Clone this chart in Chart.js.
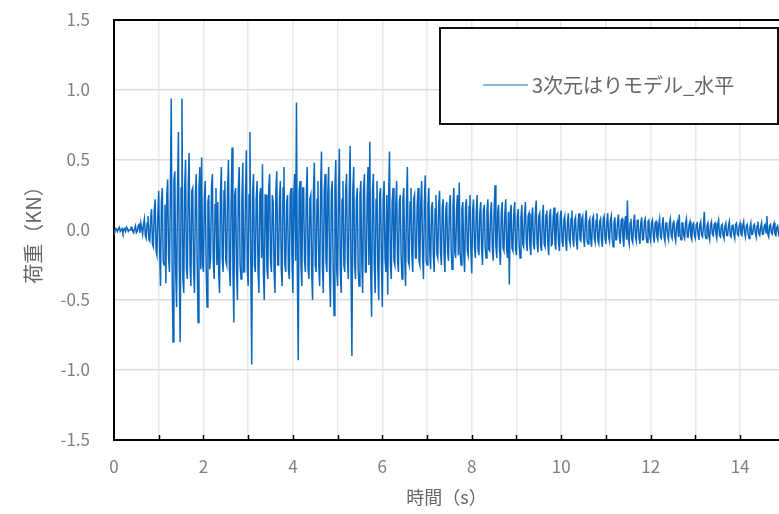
<!DOCTYPE html>
<html lang="ja">
<head>
<meta charset="UTF-8" />
<title>荷重時刻歴</title>
<script src="https://cdn.jsdelivr.net/npm/chart.js"></script>
<style>
  html, body { margin: 0; padding: 0; background: #fff; overflow: hidden; }
  #wrap { width: 779px; height: 514px; }
</style>
</head>
<body>
<div id="wrap"><canvas id="myChart" width="779" height="514"></canvas></div>
<script>
  // sample interval of the record (s)
  const dt = 0.02;

  const seriesLabel = '3次元はりモデル_水平';
  const xTitle = '時間（s）';
  const yTitle = '荷重（KN）';
  const xTickLabels = ['0', '2', '4', '6', '8', '10', '12', '14'];
  const yTickLabels = ['-1.5', '-1.0', '-0.5', '0.0', '0.5', '1.0', '1.5'];

  // load values, one row per second
  const load = [
    0.00,-0.01, 0.01,0.00, -0.01,0.01, 0.02,-0.01, 0.00,0.01, -0.02,0.00, 0.01,-0.01, 0.02,0.01, -0.01,0.00, 0.00,0.02, 0.02,-0.01, -0.02,0.01, 0.03,-0.02, -0.01,0.03, 0.04,-0.02, 0.05,0.01, -0.03,0.04, 0.08,-0.04, -0.06,0.05, 0.10,-0.07, -0.08,0.09, 0.15,-0.10, -0.12,0.14, 0.22,-0.15, -0.18,0.12,
    0.28,-0.15, -0.40,0.20, 0.30,-0.22, -0.25,0.18, -0.38,0.25, 0.36,-0.20, -0.30,0.25, 0.94,-0.30, -0.80,0.35, 0.42,-0.30, -0.55,0.28, 0.70,-0.25, -0.80,0.30, 0.94,-0.35, -0.45,0.30, 0.50,-0.28, -0.35,0.32, 0.55,-0.25, -0.40,0.28, 0.30,-0.30, -0.45,0.25, 0.40,-0.22, -0.66,0.30, 0.45,-0.28, 0.52,-0.25,
    -0.30,0.22, 0.35,-0.25, -0.55,0.20, 0.25,-0.28, -0.20,0.30, 0.40,-0.22, -0.35,0.18, 0.30,-0.25, 0.20,-0.30, -0.45,0.25, 0.45,-0.20, -0.30,0.28, 0.35,-0.22, -0.25,0.30, 0.50,-0.28, -0.40,0.22, 0.59,-0.30, -0.66,0.25, 0.30,-0.28, -0.50,0.30, 0.45,-0.25, -0.35,0.20, 0.48,-0.30, -0.30,0.25, 0.57,-0.28,
    -0.40,0.25, 0.70,-0.30, -0.96,0.28, 0.40,-0.25, -0.30,0.22, 0.35,-0.28, -0.45,0.25, 0.30,-0.20, 0.47,-0.30, -0.50,0.25, 0.25,-0.28, -0.35,0.30, 0.40,-0.22, -0.30,0.25, 0.20,-0.30, -0.45,0.28, 0.42,-0.25, -0.25,0.22, 0.35,-0.28, -0.40,0.30, 0.45,-0.25, -0.30,0.20, 0.25,-0.28, -0.35,0.25, 0.30,-0.22,
    -0.45,0.25, 0.40,-0.22, 0.91,-0.30, -0.93,0.28, 0.35,-0.25, -0.40,0.30, 0.30,-0.22, -0.30,0.25, 0.45,-0.28, -0.35,0.22, 0.25,-0.30, -0.50,0.28, 0.48,-0.25, -0.30,0.22, 0.35,-0.28, -0.40,0.30, 0.56,-0.25, -0.45,0.28, 0.40,-0.22, -0.30,0.25, 0.45,-0.30, -0.55,0.28, 0.35,-0.25, -0.61,0.30, 0.50,-0.28,
    -0.40,0.25, 0.58,-0.28, -0.45,0.22, 0.35,-0.25, -0.30,0.28, 0.40,-0.22, -0.35,0.25, 0.60,-0.30, -0.90,0.28, 0.45,-0.25, -0.35,0.22, 0.30,-0.28, -0.40,0.25, 0.35,-0.22, -0.45,0.28, 0.40,-0.30, -0.30,0.22, 0.45,-0.25, 0.63,-0.30, -0.62,0.28, 0.40,-0.25, -0.45,0.22, 0.35,-0.28, -0.50,0.25, 0.30,-0.22,
    -0.55,0.22, 0.35,-0.20, -0.30,0.25, -0.46,0.22, 0.56,-0.25, -0.35,0.20, 0.30,-0.22, -0.25,0.18, 0.35,-0.22, -0.30,0.20, 0.25,-0.18, -0.35,0.22, 0.30,-0.20, -0.40,0.18, 0.45,-0.22, -0.25,0.20, 0.30,-0.18, -0.30,0.22, 0.25,-0.20, -0.20,0.18, 0.30,-0.22, -0.25,0.20, 0.35,-0.18, -0.35,0.20, 0.39,-0.22,
    -0.25,0.18, 0.30,-0.15, -0.28,0.16, 0.20,-0.18, -0.30,0.15, 0.25,-0.17, -0.20,0.18, 0.28,-0.15, -0.25,0.16, 0.22,-0.18, -0.30,0.15, 0.20,-0.16, -0.22,0.18, 0.25,-0.15, -0.28,0.17, 0.30,-0.16, -0.20,0.15, 0.25,-0.18, 0.34,-0.16, -0.25,0.15, 0.20,-0.17, -0.30,0.16, 0.22,-0.15, -0.18,0.17, 0.25,-0.15,
    -0.31,0.14, 0.22,-0.12, -0.20,0.13, 0.25,-0.14, -0.18,0.12, 0.20,-0.13, -0.25,0.14, 0.18,-0.12, -0.20,0.13, 0.22,-0.14, -0.15,0.12, 0.20,-0.13, -0.22,0.14, 0.32,-0.12, -0.20,0.13, 0.18,-0.14, -0.25,0.12, 0.20,-0.13, -0.15,0.12, 0.22,-0.14, -0.20,0.13, -0.39,0.12, 0.18,-0.13, -0.15,0.12, 0.20,-0.14,
    -0.18,0.10, 0.15,-0.11, -0.20,0.09, 0.18,-0.10, -0.12,0.11, 0.20,-0.09, -0.15,0.10, 0.12,-0.11, -0.18,0.09, 0.16,-0.10, -0.14,0.11, 0.21,-0.09, -0.16,0.10, 0.12,-0.11, -0.15,0.09, 0.18,-0.10, -0.12,0.11, 0.14,-0.09, -0.18,0.10, 0.15,-0.11, -0.10,0.09, 0.16,-0.10, -0.14,0.11, 0.12,-0.09, -0.15,0.10,
    0.14,-0.08, -0.12,0.07, 0.10,-0.08, -0.15,0.06, 0.12,-0.07, -0.10,0.08, 0.14,-0.06, -0.12,0.07, 0.09,-0.08, -0.14,0.06, 0.12,-0.07, -0.08,0.08, 0.10,-0.06, -0.12,0.07, 0.14,-0.08, -0.10,0.06, 0.08,-0.07, -0.12,0.08, 0.10,-0.06, -0.09,0.07, 0.12,-0.08, -0.10,0.06, 0.08,-0.07, -0.12,0.08, 0.10,-0.06,
    -0.10,0.06, 0.12,-0.05, -0.08,0.07, 0.10,-0.06, -0.12,0.05, 0.09,-0.07, -0.07,0.06, 0.11,-0.05, -0.10,0.07, 0.08,-0.06, -0.12,0.05, 0.10,-0.07, 0.21,-0.06, -0.10,0.05, 0.08,-0.07, -0.09,0.06, 0.11,-0.05, -0.08,0.07, 0.07,-0.06, -0.10,0.05, 0.09,-0.07, -0.07,0.06, 0.08,-0.05, -0.09,0.06, 0.07,-0.05,
    -0.08,0.05, 0.07,-0.04, -0.09,0.05, 0.06,-0.05, -0.07,0.04, 0.08,-0.05, -0.06,0.04, 0.09,-0.05, -0.08,0.05, 0.05,-0.04, -0.07,0.05, 0.08,-0.04, -0.06,0.05, 0.07,-0.05, -0.08,0.04, 0.06,-0.05, 0.11,-0.04, -0.07,0.05, 0.05,-0.04, -0.06,0.05, 0.08,-0.05, -0.05,0.04, 0.06,-0.05, -0.07,0.04, 0.05,-0.04,
    -0.06,0.04, 0.05,-0.03, -0.07,0.04, 0.06,-0.04, -0.05,0.03, 0.13,-0.04, -0.06,0.03, 0.05,-0.04, -0.07,0.04, 0.06,-0.03, -0.04,0.04, 0.05,-0.03, -0.06,0.04, 0.07,-0.04, -0.05,0.03, 0.04,-0.04, -0.06,0.03, 0.05,-0.04, -0.04,0.03, 0.06,-0.04, -0.05,0.03, 0.04,-0.03, -0.06,0.04, 0.05,-0.03, -0.04,0.03,
    0.05,-0.03, -0.04,0.03, 0.06,-0.02, -0.05,0.03, 0.04,-0.03, -0.06,0.02, 0.05,-0.03, -0.03,0.03, 0.04,-0.02, -0.05,0.03, 0.06,-0.03, -0.04,0.02, 0.05,-0.03, -0.03,0.03, 0.04,-0.02, 0.10,-0.03, -0.05,0.03, 0.04,-0.02, -0.03,0.03, 0.05,-0.03, -0.04,0.02, 0.03,-0.03, -0.05,0.03, 0.04,-0.02, -0.03,0.02,
    0.02
  ];

  const points = load.map((v, i) => ({ x: +(i * dt).toFixed(2), y: v }));

  const tickFont = { family: "'Noto Sans CJK JP', 'DejaVu Sans', sans-serif", size: 17 };
  const grey = '#7f7f7f';

  // frame line on top, inner tick marks on the time axis, boxed legend
  const framePlugin = {
    id: 'frame',
    afterDraw(chart) {
      const { ctx, chartArea: a, scales: { x } } = chart;
      ctx.save();
      ctx.strokeStyle = '#000';
      ctx.lineWidth = 2;
      ctx.beginPath();
      ctx.moveTo(a.left, a.top);
      ctx.lineTo(a.right, a.top);
      ctx.stroke();
      ctx.lineWidth = 1.5;
      for (let s = 1; s <= 14; s++) {
        const px = Math.round(x.getPixelForValue(s)) + 0.5;
        ctx.beginPath();
        ctx.moveTo(px, a.bottom);
        ctx.lineTo(px, a.bottom - 5);
        ctx.stroke();
      }
      // legend box
      ctx.fillStyle = '#fff';
      ctx.fillRect(440, 28, 338, 96);
      ctx.strokeStyle = '#111';
      ctx.lineWidth = 2;
      ctx.strokeRect(440, 28, 338, 96);
      ctx.strokeStyle = '#5aa5d8';
      ctx.lineWidth = 1.5;
      ctx.beginPath();
      ctx.moveTo(483, 85);
      ctx.lineTo(528, 85);
      ctx.stroke();
      ctx.fillStyle = '#666';
      ctx.font = "20px 'Noto Sans CJK JP', sans-serif";
      ctx.textBaseline = 'middle';
      ctx.textAlign = 'left';
      ctx.fillText(chart.data.datasets[0].label, 532, 85);
      ctx.restore();
    }
  };

  const config = {
    type: 'line',
    data: {
      datasets: [
        {
          label: seriesLabel,
          data: points,
          borderColor: '#0b68c0',
          borderWidth: 1.5,
          pointRadius: 0,
          tension: 0
        }
      ]
    },
    options: {
      responsive: false,
      animation: false,
      layout: { padding: { top: 20, right: 0, left: 0, bottom: 0 } },
      plugins: { legend: { display: false }, tooltip: { enabled: false } },
      scales: {
        x: {
          type: 'linear',
          min: 0,
          max: 14.87,
          afterFit: s => { s.height = 74; },
          afterBuildTicks: s => { s.ticks = Array.from({ length: 15 }, (_, i) => ({ value: i })); },
          ticks: {
            autoSkip: false,
            maxRotation: 0,
            padding: 16,
            color: grey,
            font: tickFont,
            callback: v => (v % 2 === 0 ? xTickLabels[v / 2] : '')
          },
          grid: { color: '#e8e8e8', lineWidth: 1.5, drawTicks: false },
          border: { color: '#000', width: 2 },
          title: {
            display: true,
            text: xTitle,
            color: '#666',
            font: { family: "'Noto Sans CJK JP', sans-serif", size: 18 },
            padding: { top: 0, bottom: 6 }
          }
        },
        y: {
          min: -1.5,
          max: 1.5,
          afterFit: s => { s.width = 114; },
          ticks: {
            stepSize: 0.5,
            padding: 4,
            color: grey,
            font: tickFont,
            callback: (v, i) => yTickLabels[i]
          },
          grid: { color: '#dcdcdc', lineWidth: 1.5, drawTicks: true, tickLength: 20, tickColor: 'rgba(0,0,0,0)' },
          border: { color: '#000', width: 2 },
          title: {
            display: true,
            text: yTitle,
            color: '#666',
            font: { family: "'Noto Sans CJK JP', sans-serif", size: 20 },
            padding: { top: 21, bottom: 0 }
          }
        }
      }
    },
    plugins: [framePlugin]
  };

  const myChart = new Chart(document.getElementById('myChart'), config);
</script>
</body>
</html>
